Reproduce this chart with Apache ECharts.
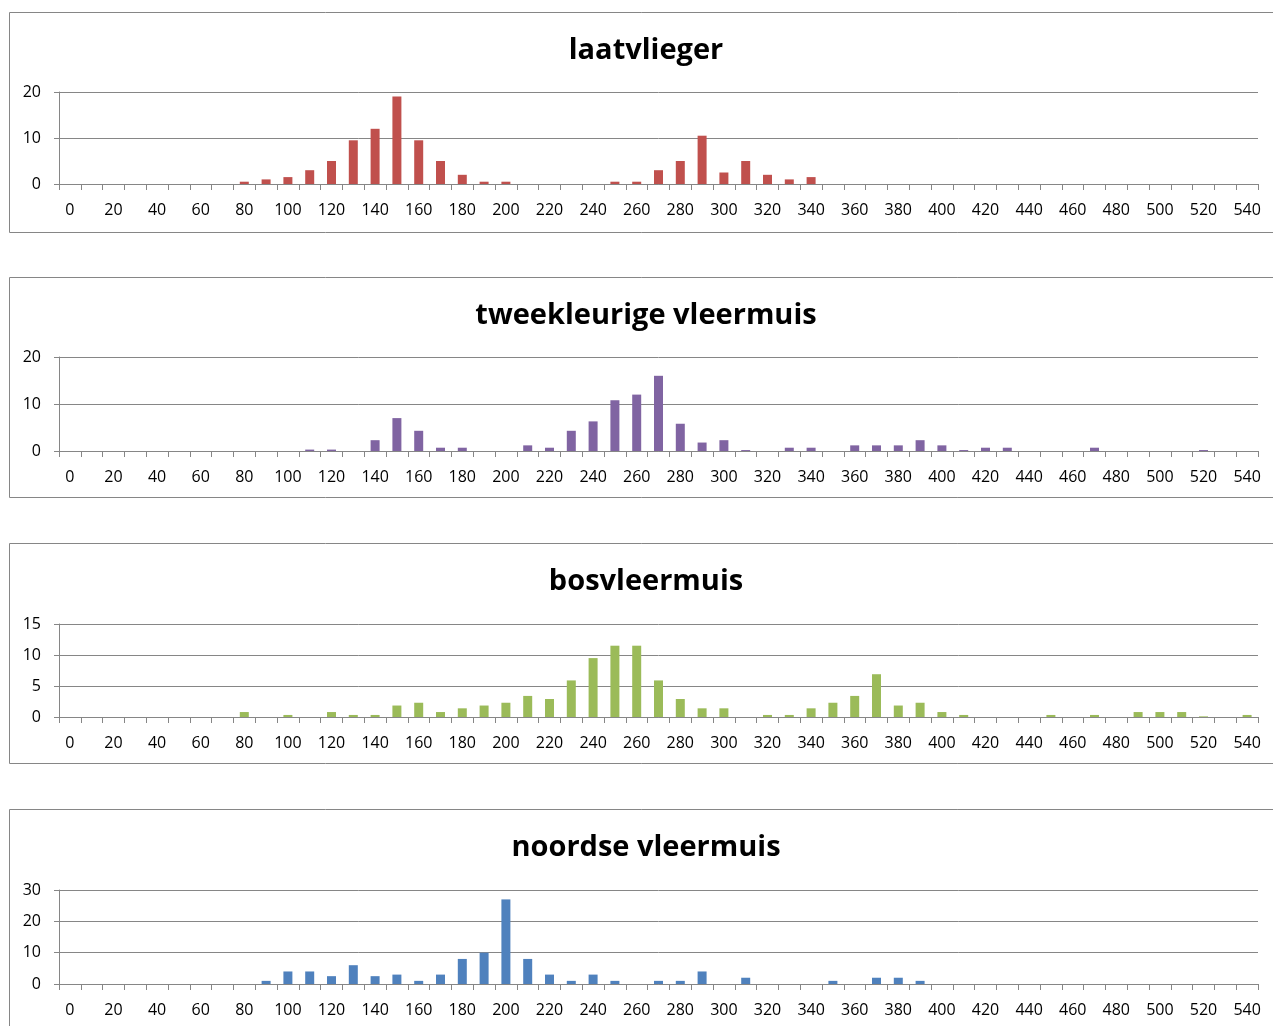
<!DOCTYPE html>
<html>
<head>
<meta charset="utf-8">
<script src="https://cdn.jsdelivr.net/npm/echarts@6/dist/echarts.min.js"></script>
<style>
  html, body { margin: 0; padding: 0; background: #ffffff; }
  #chart { width: 1273px; height: 1026px; }
</style>
</head>
<body>
<div id="chart"></div>
<script>
// Class labels on the horizontal axis (10-unit bins)
const classes = ['0','10','20','30','40','50','60','70','80','90',
  '100','110','120','130','140','150','160','170','180','190',
  '200','210','220','230','240','250','260','270','280','290',
  '300','310','320','330','340','350','360','370','380','390',
  '400','410','420','430','440','450','460','470','480','490',
  '500','510','520','530','540'];

// Species names (panel titles)
const species = ['laatvlieger', 'tweekleurige vleermuis', 'bosvleermuis', 'noordse vleermuis'];

// Counts per class for each species
const laatvlieger = [0,0,0,0,0,0,0,0,0.5,1,
  1.5,3,5,9.5,12,19,9.5,5,2,0.5,
  0.5,0,0,0,0,0.5,0.5,3,5,10.5,
  2.5,5,2,1,1.5,0,0,0,0,0,
  0,0,0,0,0,0,0,0,0,0,
  0,0,0,0,0];

const tweekleurig = [0,0,0,0,0,0,0,0,0,0,
  0,0.3,0.3,0,2.3,7,4.3,0.7,0.7,0,
  0,1.2,0.7,4.3,6.3,10.8,12,16,5.8,1.8,
  2.3,0.2,0,0.7,0.7,0,1.2,1.2,1.2,2.3,
  1.2,0.2,0.7,0.7,0,0,0,0.7,0,0,
  0,0,0.2,0,0];

const bosvleermuis = [0,0,0,0,0,0,0,0,0.8,0,
  0.33,0,0.8,0.33,0.33,1.85,2.3,0.8,1.4,1.85,
  2.3,3.4,2.9,5.9,9.5,11.5,11.5,5.9,2.9,1.4,
  1.4,0,0.33,0.33,1.4,2.3,3.4,6.9,1.85,2.3,
  0.8,0.33,0,0,0,0.33,0,0.33,0,0.8,
  0.8,0.8,0.1,0,0.33];

const noordse = [0,0,0,0,0,0,0,0,0,1,
  4,4,2.5,6,2.5,3,1,3,8,10,
  27,8,3,1,3,1,0,1,1,4,
  0,2,0,0,0,1,0,2,2,1,
  0,0,0,0,0,0,0,0,0,0,
  0,0,0,0,0];

// Value-axis ranges per panel
const yMax = [20, 20, 15, 30];
const yStep = [10, 10, 5, 10];

const seriesData = [laatvlieger, tweekleurig, bosvleermuis, noordse];
const colors = ['#C0504D', '#8064A2', '#9BBB59', '#4F81BD'];

// Panel layout (pixels)
const panelTop = [12, 277, 543, 809];
const plotTop = [92, 357, 624, 890];
const plotBottom = [184, 451, 717, 984];

const gray = '#868686';
const font = '"Open Sans", "Noto Sans", sans-serif';

const grids = [], xAxes = [], yAxes = [], series = [], titles = [], frames = [];

for (let i = 0; i < 4; i++) {
  grids.push({
    left: 59, right: 15,
    top: plotTop[i],
    height: plotBottom[i] - plotTop[i],
    containLabel: false
  });
  xAxes.push({
    type: 'category',
    gridIndex: i,
    data: classes,
    boundaryGap: true,
    axisLine: { lineStyle: { color: gray, width: 1 } },
    axisTick: { show: true, interval: 0, length: 6, lineStyle: { color: gray } },
    axisLabel: { interval: 1, margin: 18, color: '#000', fontFamily: font, fontSize: 16 },
    splitLine: { show: false }
  });
  yAxes.push({
    type: 'value',
    gridIndex: i,
    min: 0, max: yMax[i], interval: yStep[i],
    axisLine: { show: true, lineStyle: { color: gray, width: 1 } },
    axisTick: { show: true, length: 5, lineStyle: { color: gray } },
    axisLabel: { margin: 18, color: '#000', fontFamily: font, fontSize: 16 },
    splitLine: { show: true, lineStyle: { color: gray, width: 1 } }
  });
  series.push({
    type: 'bar',
    name: species[i],
    xAxisIndex: i,
    yAxisIndex: i,
    data: seriesData[i],
    barWidth: 9,
    itemStyle: { color: colors[i] },
    animation: false
  });
  titles.push({
    text: species[i],
    left: 646,
    textAlign: 'center',
    top: panelTop[i] + 24,
    padding: 0,
    textStyle: { fontFamily: font, fontSize: 29, fontWeight: 'bold', color: '#000' }
  });
  frames.push({
    type: 'rect',
    silent: true,
    shape: { x: 9.5, y: panelTop[i] + 0.5, width: 1280, height: 220 },
    style: { fill: 'none', stroke: gray, lineWidth: 1 }
  });
}

const chart = echarts.init(document.getElementById('chart'), null, { renderer: 'canvas' });
chart.setOption({
  backgroundColor: '#ffffff',
  animation: false,
  title: titles,
  grid: grids,
  xAxis: xAxes,
  yAxis: yAxes,
  series: series,
  graphic: frames
});
</script>
</body>
</html>
